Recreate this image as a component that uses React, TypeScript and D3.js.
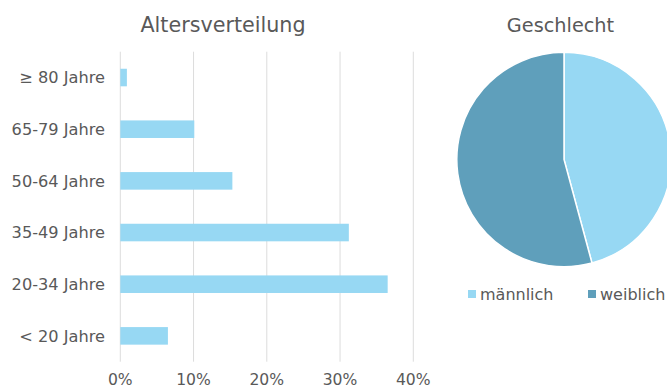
import React from "react";
import * as d3 from "d3";

const ageCategories = ["≥ 80 Jahre", "65-79 Jahre", "50-64 Jahre", "35-49 Jahre", "20-34 Jahre", "< 20 Jahre"];
const ageValues = [0.009, 0.101, 0.153, 0.312, 0.365, 0.065];
const xTicks = [0, 0.1, 0.2, 0.3, 0.4];
const genderLabels = ["männlich", "weiblich"];
const genderValues = [45.8, 54.2];
const genderColors = ["#97d8f3", "#5f9fbb"];
const barColor = "#97d8f3";
const textColor = "#595959";
const font = "'DejaVu Sans', Verdana, sans-serif";

export default function App() {
  const W = 667, H = 389;
  const x = d3.scaleLinear().domain([0, 0.4]).range([120.3, 413.3]);
  const y = d3.scaleBand<string>().domain(ageCategories).range([51.7, 361.7]).paddingInner(0.66).paddingOuter(0.33);
  const fmt = d3.format(".0%");

  const cx = 564, cy = 159.5, r = 107.2;
  const pie = d3.pie<number>().sort(null).startAngle(0).endAngle(2 * Math.PI);
  const arcs = pie(genderValues);
  const arc = d3.arc<d3.PieArcDatum<number>>().innerRadius(0).outerRadius(r);

  const legendX = [468, 588];

  return (
    <svg width={W} height={H} style={{ position: "absolute", left: 0, top: 0, background: "#fff" }} fontFamily={font}>
      <rect width={W} height={H} fill="#fff" />
      <text x={223} y={31.5} textAnchor="middle" fontSize={20.7} fill={textColor}>Altersverteilung</text>
      {xTicks.map((t) => (
        <line key={"g" + t} x1={x(t)} x2={x(t)} y1={51.7} y2={361.7} stroke="#dcdcdc" strokeWidth={1} />
      ))}
      {ageCategories.map((c, i) => (
        <g key={c}>
          <rect x={x(0)} y={y(c)!} width={x(ageValues[i]) - x(0)} height={y.bandwidth()} fill={barColor} />
          <text x={105} y={y(c)! + y.bandwidth() / 2} dy="0.36em" textAnchor="end" fontSize={16.2} fill={textColor}>{c}</text>
        </g>
      ))}
      {xTicks.map((t) => (
        <text key={"t" + t} x={x(t)} y={385} textAnchor="middle" fontSize={15.6} fill={textColor}>{fmt(t)}</text>
      ))}

      <text x={560.5} y={31.5} textAnchor="middle" fontSize={19.3} fill={textColor}>Geschlecht</text>
      <g transform={`translate(${cx},${cy})`}>
        {arcs.map((a, i) => (
          <path key={i} d={arc(a)!} fill={genderColors[i]} stroke="#fff" strokeWidth={1.5} />
        ))}
      </g>
      {genderLabels.map((l, i) => (
        <g key={l}>
          <rect x={legendX[i]} y={290} width={8} height={8} fill={genderColors[i]} />
          <text x={legendX[i] + 12} y={294} dy="0.36em" fontSize={16} fill={textColor}>{l}</text>
        </g>
      ))}
    </svg>
  );
}
